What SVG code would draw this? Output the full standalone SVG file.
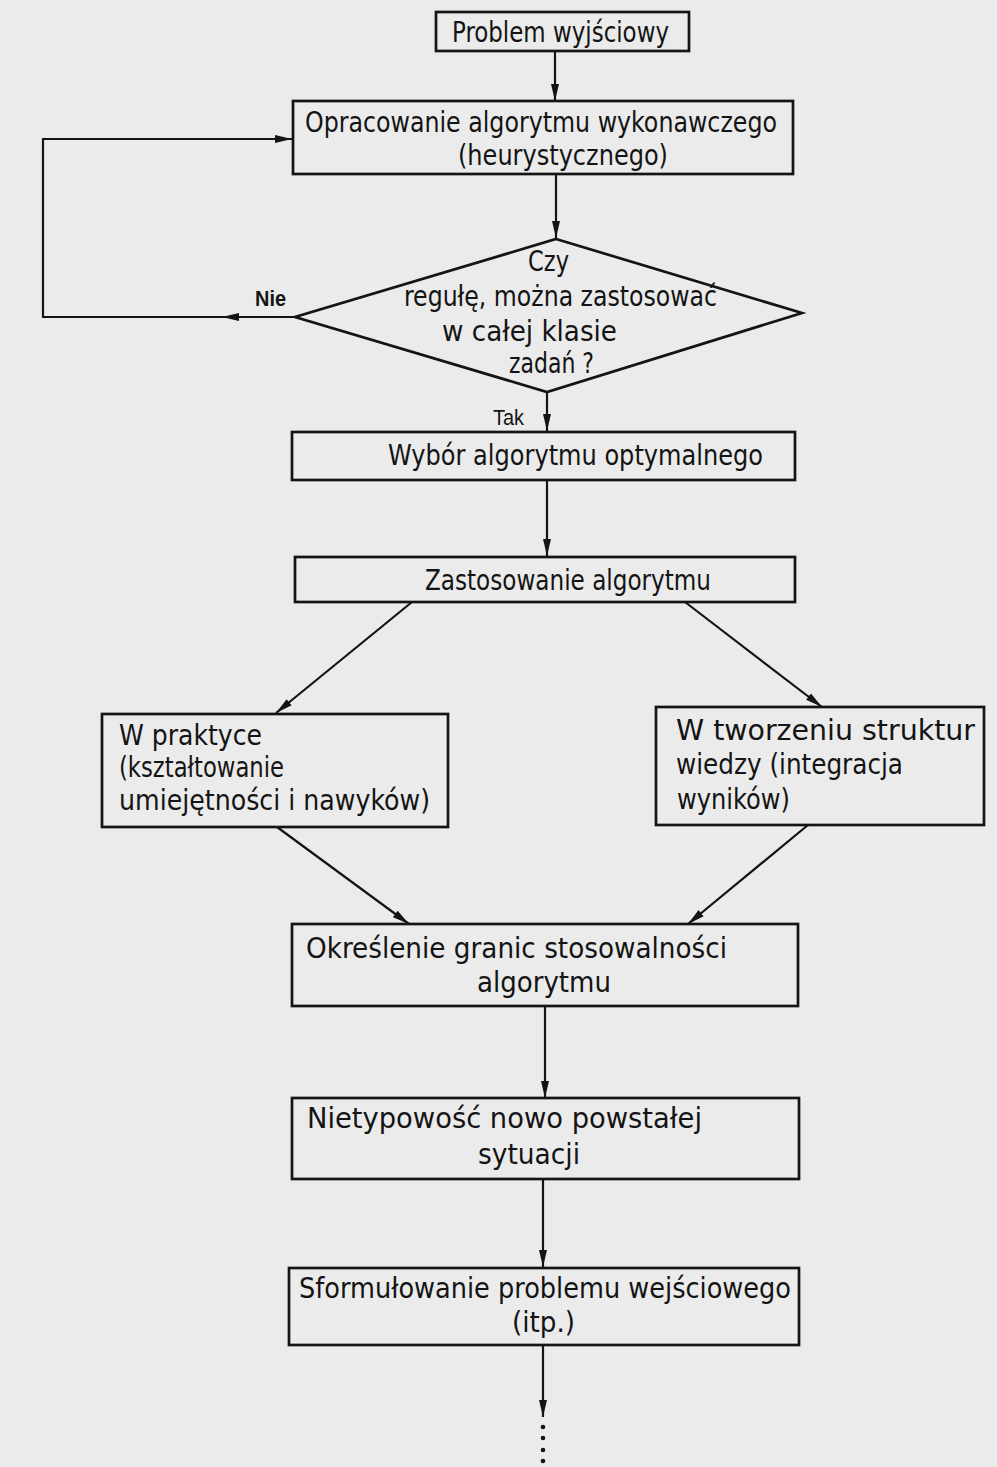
<svg xmlns="http://www.w3.org/2000/svg" width="997" height="1467" viewBox="0 0 997 1467">
<defs>
<style>
.bg{fill:#ebebeb}
.box{fill:none;stroke:#141414;stroke-width:2.7}
.c{fill:none;stroke:#141414;stroke-width:2.2}
.t{font-family:"DejaVu Sans Condensed","DejaVu Sans",sans-serif;font-size:29px;fill:#141414}
.s{font-family:"Liberation Sans",Arial,sans-serif;font-size:22px;fill:#141414}
.b{font-weight:bold}
</style>
<marker id="ah" markerUnits="userSpaceOnUse" markerWidth="20" markerHeight="12" refX="17" refY="6" orient="auto">
<path d="M0,2 L17,6 L0,10 z" fill="#141414"/>
</marker>
</defs>
<rect class="bg" x="0" y="0" width="997" height="1467"/>

<g id="connectors">
<path class="c" d="M555,51 L555,101" marker-end="url(#ah)"/>
<path class="c" d="M556,174 L556,238" marker-end="url(#ah)"/>
<path class="c" d="M295,317 L222,317" marker-end="url(#ah)"/>
<path class="c" d="M224,317 L43,317 L43,139 L292,139" marker-end="url(#ah)"/>
<path class="c" d="M547,392 L547,431" marker-end="url(#ah)"/>
<path class="c" d="M547,480 L547,556" marker-end="url(#ah)"/>
<path class="c" d="M412,602 L276,713" marker-end="url(#ah)"/>
<path class="c" d="M685,602 L822,707" marker-end="url(#ah)"/>
<path class="c" d="M277,827 L409,924" marker-end="url(#ah)"/>
<path class="c" d="M808,825 L688,924" marker-end="url(#ah)"/>
<path class="c" d="M545,1006 L545,1098" marker-end="url(#ah)"/>
<path class="c" d="M543,1179 L543,1267" marker-end="url(#ah)"/>
<path class="c" d="M543,1345 L543,1417" marker-end="url(#ah)"/>
<g fill="#141414">
<circle cx="543" cy="1427" r="2.3"/>
<circle cx="543" cy="1438" r="2.3"/>
<circle cx="543" cy="1450" r="2.3"/>
<circle cx="543" cy="1461" r="2.3"/>
</g>
</g>

<g id="n1">
<rect class="box" x="436" y="12" width="253" height="39"/>
<text class="t" x="452" y="42" textLength="217" lengthAdjust="spacingAndGlyphs">Problem wyjściowy</text>
</g>

<g id="n2">
<rect class="box" x="293" y="101" width="500" height="73"/>
<text class="t" x="305" y="132" textLength="472" lengthAdjust="spacingAndGlyphs">Opracowanie algorytmu wykonawczego</text>
<text class="t" x="458" y="165" textLength="210" lengthAdjust="spacingAndGlyphs">(heurystycznego)</text>
</g>

<g id="n3">
<polygon class="box" points="556,239 802,313 547,392 295,317"/>
<text class="t" x="528" y="271" textLength="41" lengthAdjust="spacingAndGlyphs">Czy</text>
<text class="t" x="404" y="306" textLength="313" lengthAdjust="spacingAndGlyphs">regułę, można zastosować</text>
<text class="t" x="442" y="341" textLength="175" lengthAdjust="spacingAndGlyphs">w całej klasie</text>
<text class="t" x="509" y="373" textLength="85" lengthAdjust="spacingAndGlyphs">zadań ?</text>
<text class="s b" x="255" y="306" textLength="31" lengthAdjust="spacingAndGlyphs">Nie</text>
<text class="s" x="493" y="425" textLength="31" lengthAdjust="spacingAndGlyphs">Tak</text>
</g>

<g id="n4">
<rect class="box" x="292" y="432" width="503" height="48"/>
<text class="t" x="388" y="465" textLength="375" lengthAdjust="spacingAndGlyphs">Wybór algorytmu optymalnego</text>
</g>

<g id="n5">
<rect class="box" x="295" y="557" width="500" height="45"/>
<text class="t" x="425" y="590" textLength="286" lengthAdjust="spacingAndGlyphs">Zastosowanie algorytmu</text>
</g>

<g id="n6">
<rect class="box" x="102" y="714" width="346" height="113"/>
<text class="t" x="119" y="745" textLength="143" lengthAdjust="spacingAndGlyphs">W praktyce</text>
<text class="t" x="119" y="777" textLength="165" lengthAdjust="spacingAndGlyphs">(kształtowanie</text>
<text class="t" x="119" y="810" textLength="311" lengthAdjust="spacingAndGlyphs">umiejętności i nawyków)</text>
</g>

<g id="n7">
<rect class="box" x="656" y="707" width="328" height="118"/>
<text class="t" x="676" y="740" textLength="299" lengthAdjust="spacingAndGlyphs">W tworzeniu struktur</text>
<text class="t" x="676" y="774" textLength="227" lengthAdjust="spacingAndGlyphs">wiedzy (integracja</text>
<text class="t" x="677" y="809" textLength="113" lengthAdjust="spacingAndGlyphs">wyników)</text>
</g>

<g id="n8">
<rect class="box" x="292" y="924" width="506" height="82"/>
<text class="t" x="306" y="958" textLength="421" lengthAdjust="spacingAndGlyphs">Określenie granic stosowalności</text>
<text class="t" x="477" y="992" textLength="134" lengthAdjust="spacingAndGlyphs">algorytmu</text>
</g>

<g id="n9">
<rect class="box" x="292" y="1098" width="507" height="81"/>
<text class="t" x="307" y="1128" textLength="395" lengthAdjust="spacingAndGlyphs">Nietypowość nowo powstałej</text>
<text class="t" x="478" y="1164" textLength="102" lengthAdjust="spacingAndGlyphs">sytuacji</text>
</g>

<g id="n10">
<rect class="box" x="289" y="1268" width="510" height="77"/>
<text class="t" x="299" y="1298" textLength="492" lengthAdjust="spacingAndGlyphs">Sformułowanie problemu wejściowego</text>
<text class="t" x="512" y="1332" textLength="63" lengthAdjust="spacingAndGlyphs">(itp.)</text>
</g>
</svg>
